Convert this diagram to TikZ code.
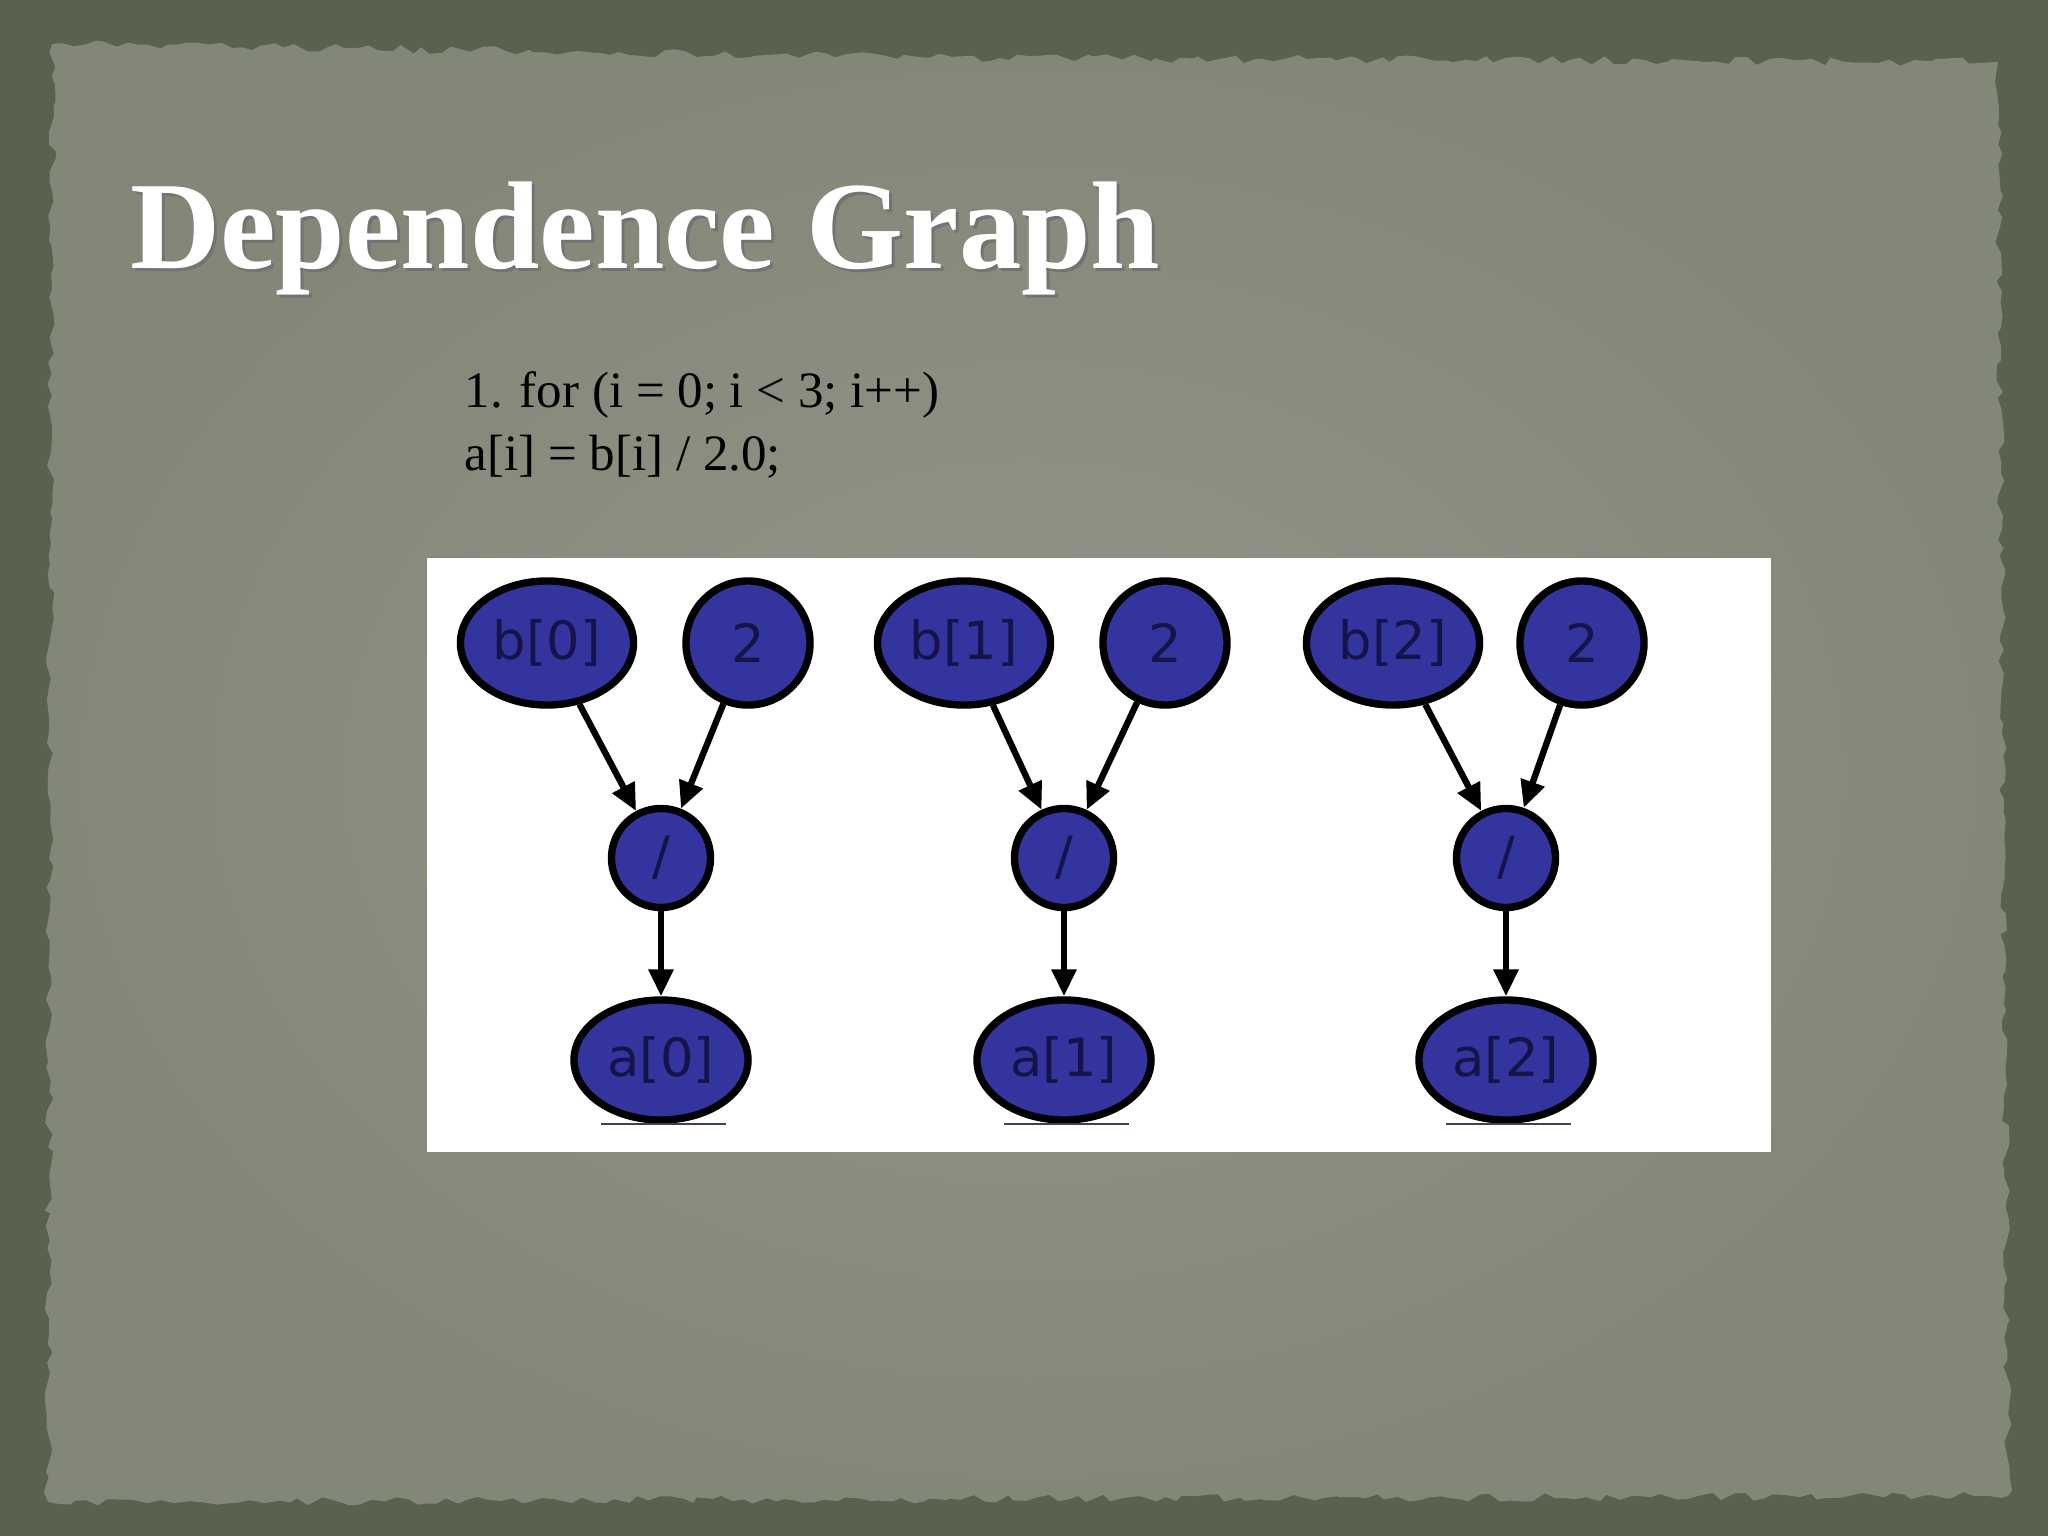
\documentclass[tikz,border=0pt]{standalone}
\usepackage{fontspec}
\setmainfont{Liberation Serif}
\newfontfamily\nodefont{DejaVu Sans}
\usetikzlibrary{arrows.meta,decorations.pathmorphing,shapes.geometric}
\definecolor{frame}{RGB}{88,98,76}
\definecolor{paper}{RGB}{130,135,120}
\definecolor{paperlight}{RGB}{145,150,136}
\definecolor{nodeblue}{RGB}{52,52,158}
\definecolor{nodetext}{RGB}{20,20,75}
\tikzset{
  opnode/.style={ellipse,draw=black,line width=2.1pt,fill=nodeblue,text=nodetext,
    font=\nodefont\fontsize{15}{18}\selectfont,inner sep=0pt},
  varnode/.style={opnode,minimum width=1.73cm,minimum height=1.24cm},
  constnode/.style={opnode,minimum width=1.24cm,minimum height=1.24cm},
  divnode/.style={opnode,minimum width=0.99cm,minimum height=0.99cm},
  outnode/.style={opnode,minimum width=1.74cm,minimum height=1.2cm},
  dep/.style={line width=1.8pt,-{Triangle[length=0.27cm,width=0.24cm]}},
  scanline/.style={line width=0.6pt,draw=nodetext!60!gray}
}

\begin{document}
\begin{tikzpicture}[x=0.01cm,y=-0.01cm]
\pgfmathsetseed{7}
\useasboundingbox (0,0) rectangle (2048,1536);
\fill[frame] (0,0) rectangle (2048,1536);
\shade[inner color=paperlight,outer color=paper,decorate,
  decoration={random steps,segment length=3pt,amplitude=1.2pt}]
  (52,44) -- (1000,58) -- (1998,62) -- (2008,1496) -- (48,1502) -- cycle;

\node[anchor=base west,font=\bfseries\fontsize{35.5}{42}\selectfont,text=black!55] (titleshadow) at (121,271) {Dependence Graph};
\node[anchor=base west,font=\bfseries\fontsize{35.5}{42}\selectfont,text=white] (title) at (118,268) {Dependence Graph};
\node[anchor=base west,font=\fontsize{14.5}{18}\selectfont,inner sep=0pt] (code1) at (464,407) {1. for (i = 0; i < 3; i++)};
\node[anchor=base west,font=\fontsize{14.5}{18}\selectfont,inner sep=0pt] (code2) at (464,470) {a[i] = b[i] / 2.0;};

\fill[white] (427,558) rectangle (1771,1152);

\node[varnode] (b0) at (547,643) {b[0]};
\node[constnode] (c0) at (748,643) {2};
\node[divnode] (d0) at (661,858) {/};
\node[outnode] (a0) at (661,1060) {a[0]};

\node[varnode] (b1) at (964,643) {b[1]};
\node[constnode] (c1) at (1165,643) {2};
\node[divnode] (d1) at (1064,858) {/};
\node[outnode] (a1) at (1064,1060) {a[1]};

\node[varnode] (b2) at (1393,643) {b[2]};
\node[constnode] (c2) at (1582,643) {2};
\node[divnode] (d2) at (1506,858) {/};
\node[outnode] (a2) at (1506,1060) {a[2]};

\draw[dep] (b0) -- (d0);
\draw[dep] (c0) -- (d0);
\draw[dep] (d0) -- (a0);
\draw[dep] (b1) -- (d1);
\draw[dep] (c1) -- (d1);
\draw[dep] (d1) -- (a1);
\draw[dep] (b2) -- (d2);
\draw[dep] (c2) -- (d2);
\draw[dep] (d2) -- (a2);

\draw[scanline] ([xshift=-0.6cm]a0.south) -- ([xshift=0.65cm]a0.south);
\draw[scanline] ([xshift=-0.6cm]a1.south) -- ([xshift=0.65cm]a1.south);
\draw[scanline] ([xshift=-0.6cm]a2.south) -- ([xshift=0.65cm]a2.south);
\end{tikzpicture}
\end{document}
